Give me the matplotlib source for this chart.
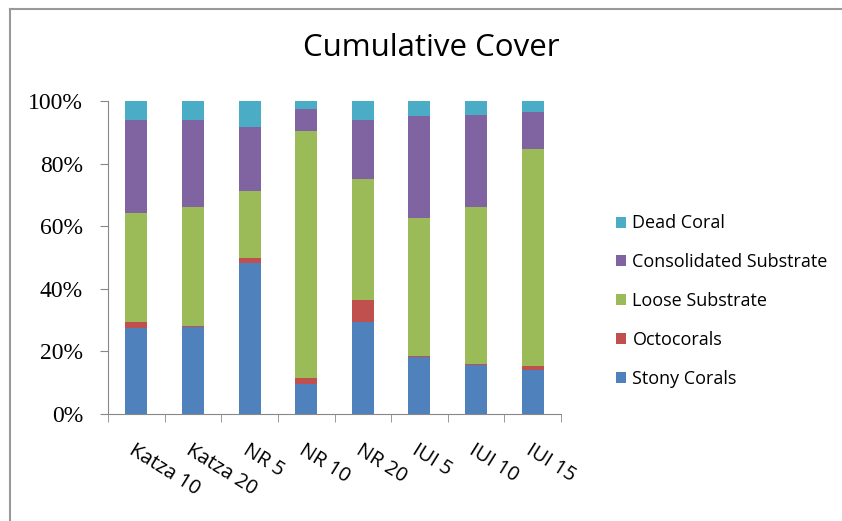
import numpy as np
import matplotlib
matplotlib.use("Agg")
import matplotlib.pyplot as plt
from matplotlib.lines import Line2D

# percent cover per site, bottom to top of each stack
sites = ["Katza 10", "Katza 20", "NR 5", "NR 10", "NR 20", "IUI 5", "IUI 10", "IUI 15"]
stony = [27.4, 27.7, 48.4, 9.7, 29.5, 18.1, 15.7, 14.1]
octo = [1.9, 0.5, 1.3, 1.7, 7.0, 0.3, 0.3, 1.3]
loose = [35.0, 38.0, 21.5, 79.0, 38.6, 44.2, 50.2, 69.2]
consol = [29.6, 27.7, 20.5, 7.2, 18.8, 32.6, 29.2, 12.0]
dead = [6.1, 6.1, 8.3, 2.4, 6.1, 4.8, 4.6, 3.4]

series = [
    ("Stony Corals", stony, "#4F81BD"),
    ("Octocorals", octo, "#C0504D"),
    ("Loose Substrate", loose, "#9BBB59"),
    ("Consolidated Substrate", consol, "#8064A2"),
    ("Dead Coral", dead, "#4BACC6"),
]

fig = plt.figure(figsize=(8.42, 5.21), dpi=100)
ax = fig.add_axes([108 / 842, 1 - 414 / 521, 453 / 842, 313 / 521])

x = np.arange(len(sites))
bottom = np.zeros(len(sites))
handles = []
for name, vals, col in series:
    b = ax.bar(x, vals, width=0.39, bottom=bottom, color=col, label=name)
    bottom += np.array(vals)
    handles.append(b)

ax.set_xlim(-0.5, len(sites) - 0.5)
ax.set_ylim(0, 100)
ax.set_yticks(np.arange(0, 101, 20))
ax.set_yticklabels([f"{v}%" for v in range(0, 101, 20)],
                   family="Liberation Serif", fontsize=17)
ax.tick_params(axis="y", length=6, color="#888888", pad=12)

# category boundary ticks below the axis
ax.set_xticks(np.arange(-0.5, len(sites)), minor=True)
ax.tick_params(axis="x", which="minor", length=6, color="#888888", direction="out")
ax.set_xticks(x)
ax.set_xticklabels(sites, rotation=-32, ha="left", va="top",
                   rotation_mode="anchor", family="Open Sans", fontsize=14.5)
ax.tick_params(axis="x", which="major", length=0, pad=19)

for s in ["top", "right"]:
    ax.spines[s].set_visible(False)
for s in ["left", "bottom"]:
    ax.spines[s].set_color("#888888")

fig.text(431 / 842, 1 - 48 / 521, "Cumulative Cover", ha="center", va="center",
         family="Open Sans", fontsize=22.5)

ax.legend(handles[::-1], [s[0] for s in series][::-1], loc="center left",
          bbox_to_anchor=(600 / 842, 1 - 301 / 521), bbox_transform=fig.transFigure,
          frameon=False, prop={"family": "Open Sans", "size": 13},
          handlelength=0.55, handleheight=0.55, handletextpad=0.35, labelspacing=1.15)

# outer chart border
fig.add_artist(Line2D([10 / 842, 1], [1 - 9 / 521, 1 - 9 / 521], color="#999999", lw=1.5))
fig.add_artist(Line2D([10 / 842, 10 / 842], [0, 1 - 9 / 521], color="#999999", lw=1.5))

fig.savefig("out.png", dpi=100)
